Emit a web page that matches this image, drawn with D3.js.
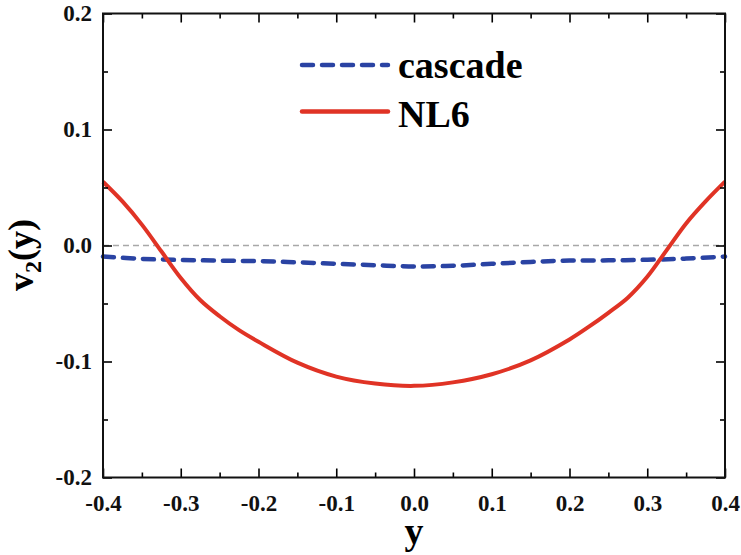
<!DOCTYPE html>
<html>
<head>
<meta charset="utf-8">
<script src="https://cdn.jsdelivr.net/npm/d3@7"></script>
<style>
  body { margin: 0; background: #fff; }
  svg { display: block; font-family: "Liberation Serif", "Times New Roman", serif; }
  .tick text { font-family: "Liberation Serif", serif; font-size: 23px; font-weight: bold; fill: #111; }
</style>
</head>
<body>
<svg id="chart" width="741" height="555"></svg>
<script>
// rapidity values and v2 for the two calculations
var yCascade = [-0.4, -0.35, -0.3, -0.25, -0.2, -0.15, -0.1, -0.05, 0, 0.05, 0.1, 0.15, 0.2, 0.25, 0.3, 0.35, 0.4];
var v2Cascade = [-0.0095, -0.0115, -0.0125, -0.013, -0.0135, -0.0145, -0.0158, -0.017, -0.018, -0.0175, -0.0158, -0.0142, -0.013, -0.0128, -0.0123, -0.0113, -0.0095];

var yNL6 = [-0.4, -0.375, -0.35, -0.325, -0.3, -0.275, -0.25, -0.225, -0.2, -0.15, -0.1, -0.05, 0, 0.05, 0.1, 0.15, 0.2, 0.225, 0.25, 0.275, 0.3, 0.325, 0.35, 0.375, 0.4];
var v2NL6 = [0.055, 0.038, 0.018, -0.005, -0.028, -0.047, -0.061, -0.073, -0.083, -0.101, -0.113, -0.119, -0.121, -0.118, -0.111, -0.099, -0.081, -0.070, -0.058, -0.045, -0.027, -0.004, 0.019, 0.038, 0.055];

var xMajor = [-0.4, -0.3, -0.2, -0.1, 0.0, 0.1, 0.2, 0.3, 0.4];
var yMajor = [-0.2, -0.1, 0.0, 0.1, 0.2];

var svg = d3.select("#chart");
var mLeft = 103, mRight = 725, mTop = 13.5, mBottom = 477.5;

var x = d3.scaleLinear().domain([-0.4, 0.4]).range([mLeft, mRight]);
var y = d3.scaleLinear().domain([-0.2, 0.2]).range([mBottom, mTop]);

var xMinor = d3.range(-0.35, 0.4, 0.1);
var yMinor = d3.range(-0.15, 0.2, 0.1);

// zero reference line
svg.append("line")
  .attr("x1", x(-0.4)).attr("x2", x(0.4))
  .attr("y1", y(0)).attr("y2", y(0))
  .style("stroke", "#a8a8a8")
  .style("stroke-width", 1.5)
  .style("stroke-dasharray", "6,4");

var line = d3.line()
  .x(d => x(d[0]))
  .y(d => y(d[1]))
  .curve(d3.curveCatmullRom);

svg.append("path")
  .datum(d3.zip(yCascade, v2Cascade))
  .attr("d", line)
  .style("fill", "none")
  .style("stroke", "#2a43a3")
  .style("stroke-width", 4.5)
  .style("stroke-dasharray", "11,9")
  .style("stroke-linecap", "round");

svg.append("path")
  .datum(d3.zip(yNL6, v2NL6))
  .attr("d", line)
  .style("fill", "none")
  .style("stroke", "#e03325")
  .style("stroke-width", 4);

// axes: inward ticks on all four sides
var fmt = d => d3.format(".1f")(d).replace("\u2212", "-");
var addAxis = function(axis, tx, ty, labels){
  var g = svg.append("g").attr("transform", "translate(" + tx + "," + ty + ")").call(axis);
  g.attr("font-family", null).attr("font-size", null);
  g.select(".domain").remove();
  g.selectAll("line").style("stroke", "#000").style("stroke-width", 1.6);
  if (!labels) g.selectAll("text").remove();
  return g;
};

addAxis(d3.axisBottom(x).tickValues(xMajor).tickSize(-9).tickPadding(17).tickFormat(fmt), 0, mBottom, true);
addAxis(d3.axisBottom(x).tickValues(xMinor).tickSize(-5), 0, mBottom, false);
addAxis(d3.axisTop(x).tickValues(xMajor).tickSize(-9), 0, mTop, false);
addAxis(d3.axisTop(x).tickValues(xMinor).tickSize(-5), 0, mTop, false);

addAxis(d3.axisLeft(y).tickValues(yMajor).tickSize(-9).tickPadding(11).tickFormat(fmt), mLeft, 0, true);
addAxis(d3.axisLeft(y).tickValues(yMinor).tickSize(-5), mLeft, 0, false);
addAxis(d3.axisRight(y).tickValues(yMajor).tickSize(-9), mRight, 0, false);
addAxis(d3.axisRight(y).tickValues(yMinor).tickSize(-5), mRight, 0, false);

// frame
svg.append("rect")
  .attr("x", mLeft).attr("y", mTop)
  .attr("width", mRight - mLeft).attr("height", mBottom - mTop)
  .style("fill", "none")
  .style("stroke", "#111")
  .style("stroke-width", 2);

// axis titles
svg.append("text")
  .attr("x", x(0)).attr("y", 544)
  .attr("text-anchor", "middle")
  .style("font-size", "38px").style("font-weight", "bold")
  .text("y");

var yt = svg.append("text")
  .attr("transform", "translate(33," + 255 + ") rotate(-90)")
  .attr("text-anchor", "middle")
  .style("font-size", "36px").style("font-weight", "bold");
yt.append("tspan").text("v");
yt.append("tspan").attr("dy", 8).style("font-size", "24px").text("2");
yt.append("tspan").attr("dy", -8).text("(y)");

// legend
var legend = [
  {name: "cascade", color: "#2a43a3", dash: "11,9", w: 4.5, ly: 65, ty: 78},
  {name: "NL6", color: "#e03325", dash: null, w: 4.5, ly: 111.5, ty: 127}
];
legend.forEach(function(d){
  svg.append("line")
    .attr("x1", 302).attr("x2", 388)
    .attr("y1", d.ly).attr("y2", d.ly)
    .style("stroke", d.color)
    .style("stroke-width", d.w)
    .style("stroke-dasharray", d.dash)
    .style("stroke-linecap", "round");
  svg.append("text")
    .attr("x", 398).attr("y", d.ty)
    .style("font-size", "38px").style("font-weight", "bold")
    .text(d.name);
});
</script>
</body>
</html>
